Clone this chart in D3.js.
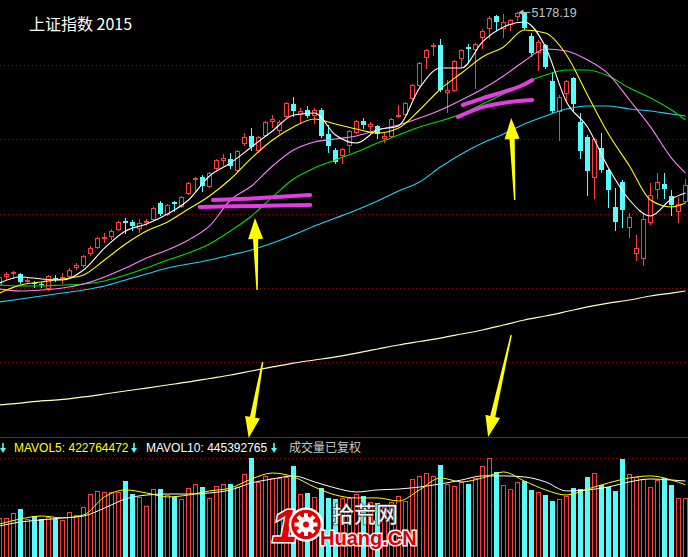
<!DOCTYPE html>
<html><head><meta charset="utf-8">
<script src="https://cdn.jsdelivr.net/npm/d3@7"></script>
<style>
html,body{margin:0;padding:0;background:#000;overflow:hidden}
svg{display:block}
</style></head><body>
<svg id="c" width="688" height="557"></svg>
<script>
// ---------------- DATA ----------------
const chartTitle = "上证指数 2015";
const openP = [3212,3277,3298,3291,3241,3226,3219,3190,3262,3262,
3277,3342,3356,3442,3486,3550,3565,3615,3673,3666,
3622,3666,3687,3802,3723,3810,3781,3874,3975,3990,
3925,4054,4112,4119,4040,4234,4285,4184,4292,4393,
4328,4429,4515,4443,4472,4436,4472,4299,4184,4148,
4220,4314,4393,4357,4357,4270,4285,4429,4443,4558,
4652,4854,4933,4940,4602,4616,4846,4926,4911,4998,
5062,5149,5062,5091,5149,5170,5005,4890,4940,4681,
4465,4594,4702,4386,4278,3990,4198,4040,3774,3954,
3630,3442,3406,3666,3903,3939,3853,3745,3817];
const highP = [3284,3306,3313,3298,3262,3241,3234,3284,3284,3298,
3334,3370,3428,3493,3558,3586,3615,3673,3694,3680,
3687,3687,3774,3817,3795,3817,3853,3954,3986,4004,
4026,4119,4155,4162,4184,4306,4342,4285,4393,4436,
4400,4530,4566,4486,4501,4486,4486,4364,4198,4198,
4328,4400,4414,4386,4364,4314,4414,4508,4530,4659,
4818,4911,4954,4983,4688,4832,4911,4947,4954,5055,
5149,5156,5163,5127,5178.19,5174,5026,4976,4947,4746,
4580,4688,4710,4450,4292,4270,4306,4047,3910,3968,
3730,3572,3730,3946,4018,4018,3896,3846,3975];
const lowP = [3198,3255,3270,3226,3226,3198,3198,3176,3241,3226,
3262,3327,3342,3428,3478,3522,3543,3608,3586,3608,
3594,3644,3680,3716,3716,3745,3774,3867,3882,3889,
3918,4040,4076,4054,4026,4220,4184,4170,4285,4350,
4306,4422,4429,4386,4422,4378,4278,4170,4090,4090,
4170,4306,4342,4299,4270,4242,4278,4422,4436,4551,
4645,4774,4868,4609,4458,4609,4782,4818,4630,4918,
4990,5048,4998,5048,5120,5055,4861,4760,4774,4458,
4256,4530,4472,4126,3860,3838,4026,3774,3608,3630,
3558,3392,3356,3651,3838,3838,3716,3666,3810];
const closeP = [3270,3291,3306,3234,3248,3219,3212,3277,3255,3270,
3320,3356,3421,3478,3550,3558,3601,3666,3658,3637,
3658,3673,3766,3723,3788,3795,3846,3946,3982,3925,
4018,4112,4126,4069,4177,4278,4206,4278,4386,4407,
4386,4522,4465,4465,4429,4472,4285,4213,4098,4191,
4321,4393,4364,4371,4299,4285,4407,4436,4522,4652,
4810,4904,4940,4616,4616,4825,4904,4911,4947,5041,
5134,5106,5106,5120,5170,5062,4882,4962,4782,4465,
4566,4681,4515,4177,4033,4263,4040,3896,3666,3752,
3702,3478,3687,3860,3954,3903,3788,3795,3932];
// volume, millions
const volume = [229,229,258,281,223,240,223,234,223,217,
264,246,293,369,387,381,381,381,445,369,
352,299,398,398,363,352,340,404,428,410,
346,416,428,428,410,486,580,440,475,463,
463,469,533,369,375,352,404,346,340,346,
346,369,357,322,316,293,322,357,328,457,
475,492,475,539,428,416,440,428,463,533,
580,498,422,398,440,445,393,381,363,328,
340,357,404,398,469,492,422,410,387,574,
486,469,457,410,451,463,422,346,346];

// moving-average lines at these days
const maDays = [0,3,6,9,12,15,18,21,24,27,30,33,36,39,42,45,48,51,54,57,60,63,66,69,72,75,78,81,84,87,90,93,96,98];
const ma5 = [3226,3270,3255,3248,3320,3478,3601,3651,3723,3824,3997,4090,4206,4321,4436,4450,4292,4234,4328,4357,4630,4774,4774,4962,5070,5106,4926,4530,4350,4054,3824,3709,3831,3874];
const ma10 = [3154,3212,3234,3255,3284,3392,3507,3601,3666,3759,3853,3975,4126,4256,4350,4407,4371,4335,4306,4342,4472,4623,4738,4854,4926,5048,5026,4868,4580,4299,4069,3824,3774,3802];
const ma20 = [3183,3169,3176,3190,3219,3270,3334,3406,3464,3536,3637,3824,3925,4069,4184,4242,4263,4285,4328,4364,4414,4472,4544,4623,4717,4825,4911,4897,4832,4731,4544,4350,4126,4018];
const ma30 = [3212,3205,3205,3212,3219,3241,3284,3334,3392,3442,3507,3601,3709,3846,3975,4054,4112,4170,4234,4292,4350,4393,4443,4515,4587,4666,4724,4760,4760,4717,4630,4558,4472,4400];
const ma60 = [3090,3111,3133,3154,3176,3205,3248,3291,3334,3363,3392,3428,3464,3514,3572,3637,3694,3752,3817,3889,3954,4061,4155,4234,4299,4371,4429,4479,4501,4501,4479,4465,4443,4429];
const ma250 = [2348,2362,2377,2388,2406,2427,2449,2470,2492,2514,2539,2564,2593,2622,2650,2672,2694,2722,2751,2780,2805,2830,2859,2888,2924,2960,2989,3021,3054,3082,3104,3133,3154,3169];
const volMa5 = [193,223,240,229,246,352,393,375,352,363,387,404,457,492,469,410,363,346,346,328,393,463,440,463,498,445,393,363,398,434,463,475,451,423];
const volMa10 = [182,205,217,229,240,287,340,363,369,369,375,393,434,457,475,440,404,381,393,398,410,428,451,475,475,469,440,387,393,410,440,457,451,445];

const mavol5Last = 422764472;
const mavol10Last = 445392765;
const volNote = "成交量已复权";

const priceGrid = [4796,4263,3723,3190,2658];
const volGrid = [580,305];

// hand-drawn annotations, in [day, price] units
const markA1 = [[30.5,3824],[37.2,3838],[44.4,3860]];
const markA2 = [[28.6,3774],[36.5,3781],[44.4,3788]];
const markB1 = [[66.2,4508],[69.1,4558],[72.9,4616],[74.8,4652],[76.1,4688]];
const markB2 = [[65.5,4422],[69.1,4494],[72.9,4530],[76.1,4544]];
const arrows = [
  [[36.8,3176],[36.5,3694]],
  [[73.6,3824],[73.1,4414]],
  [[37.6,2658],[35.6,2111]],
  [[73.1,2852],[69.8,2118]]
];

// ---------------- DRAW ----------------
const W=688,H=557;
const RED='#ff3c3c', CYAN='#54fcfc';
const svg=d3.select('#c');
svg.append('rect').attr('width',W).attr('height',H).attr('fill','#000');
const n=closeP.length;
const x=d3.scaleLinear().domain([0,98]).range([-0.5,685.5]);
const y=d3.scaleLinear().domain([2312,5192]).range([410,10]);
const vY=d3.scaleLinear().domain([0,700]).range([557,437.5]);
const snap=v=>Math.round(v);
const idx=d3.range(n);
const up=i=>closeP[i]>=openP[i];

// grid
svg.append('g').selectAll('line').data(priceGrid).join('line')
  .attr('x1',0).attr('x2',W)
  .attr('y1',d=>snap(y(d))+0.5).attr('y2',d=>snap(y(d))+0.5)
  .attr('stroke','#8c0a0a').attr('stroke-dasharray','1,3');
svg.append('g').selectAll('line').data(volGrid).join('line')
  .attr('x1',0).attr('x2',W)
  .attr('y1',d=>snap(vY(d))+0.5).attr('y2',d=>snap(vY(d))+0.5)
  .attr('stroke','#8c0a0a').attr('stroke-dasharray','1,3');
svg.append('line').attr('x1',0).attr('x2',W).attr('y1',vY(700)).attr('y2',vY(700))
  .attr('stroke','#a01010');

// MA250 (behind)
const lineGen=sc=>d3.line().x((d,k)=>x(maDays[k])).y(d=>sc(d)).curve(d3.curveMonotoneX);
svg.append('path').attr('d',lineGen(y)(ma250)).attr('fill','none')
  .attr('stroke','#ffffc4').attr('stroke-width',1.2);

// volume bars
const vg=svg.append('g');
vg.selectAll('rect').data(idx).join('rect')
  .attr('x',i=>up(i)?x(i)-2:x(i)-2.5)
  .attr('y',i=>up(i)?snap(vY(volume[i]))+0.5:snap(vY(volume[i])))
  .attr('width',i=>up(i)?4:5)
  .attr('height',i=>H+4-snap(vY(volume[i])))
  .attr('fill',i=>up(i)?'#000':CYAN)
  .attr('stroke',i=>up(i)?RED:'none')
  .attr('shape-rendering','crispEdges');
// volume MA
svg.append('path').attr('d',lineGen(vY)(volMa10)).attr('fill','none').attr('stroke','#ffffff').attr('stroke-width',1);
svg.append('path').attr('d',lineGen(vY)(volMa5)).attr('fill','none').attr('stroke','#ffff00').attr('stroke-width',1);

// candles
const cg=svg.append('g');
cg.selectAll('line').data(idx).join('line')
  .attr('x1',i=>x(i)).attr('x2',i=>x(i))
  .attr('y1',i=>snap(y(highP[i]))).attr('y2',i=>snap(y(lowP[i]))+1)
  .attr('stroke',i=>up(i)?RED:CYAN)
  .attr('shape-rendering','crispEdges');
cg.selectAll('rect').data(idx).join('rect')
  .attr('x',i=>up(i)?x(i)-2:x(i)-2.5)
  .attr('y',i=>{const t=snap(y(Math.max(openP[i],closeP[i])));return up(i)?t+0.5:t;})
  .attr('width',i=>up(i)?4:5)
  .attr('height',i=>{const t=snap(y(Math.max(openP[i],closeP[i])));const b=snap(y(Math.min(openP[i],closeP[i])));return Math.max(b-t,1);})
  .attr('fill',i=>up(i)?'#000':CYAN)
  .attr('stroke',i=>up(i)?RED:'none')
  .attr('shape-rendering','crispEdges');

// price MA lines
[[ma60,'#1ed2f5'],[ma30,'#00dc00'],[ma20,'#ff80ff'],[ma10,'#ffff00'],[ma5,'#ffffff']].forEach(([arr,col])=>{
  svg.append('path').attr('d',lineGen(y)(arr)).attr('fill','none').attr('stroke',col).attr('stroke-width',1.1);
});

// peak label
const iMax=d3.maxIndex(highP);
const px=x(iMax), py=y(highP[iMax]);
svg.append('line').attr('x1',px+2).attr('x2',px+13).attr('y1',py+0.5).attr('y2',py+0.5).attr('stroke','#c0c0c0');
svg.append('path').attr('d',`M${px+1},${py+0.5}L${px+6},${py-2.5}L${px+6},${py+3.5}Z`).attr('fill','#c0c0c0');
svg.append('text').attr('x',px+14).attr('y',py+5).attr('fill','#bfc3c8')
  .attr('font-family','"Liberation Sans",Arial,sans-serif').attr('font-size',12.5)
  .text(d3.format('.2f')(highP[iMax]));

// title
svg.append('text').attr('x',29).attr('y',30).attr('fill','#fff')
  .attr('font-family','"Noto Sans CJK SC","Liberation Sans",sans-serif').attr('font-size',16)
  .text(chartTitle);

// magenta hand marks
const mk=d3.line().x(d=>x(d[0])).y(d=>y(d[1])).curve(d3.curveCatmullRom);
[markA1,markA2,markB1,markB2].forEach(m=>{
  svg.append('path').attr('d',mk(m)).attr('fill','none').attr('stroke','#e33ce3')
    .attr('stroke-width',4).attr('stroke-linecap','round');
});

// yellow arrows
arrows.forEach(([t,p])=>{
  const T=[x(t[0]),y(t[1])], P=[x(p[0]),y(p[1])];
  const dx=P[0]-T[0], dy=P[1]-T[1], L=Math.hypot(dx,dy);
  const u=[dx/L,dy/L], nn=[-u[1],u[0]];
  const hl=21, hw=7.5;
  const B=[P[0]-u[0]*hl,P[1]-u[1]*hl];
  const pt=(o,s)=>[o[0]+nn[0]*s,o[1]+nn[1]*s];
  const pts=[pt(T,0.7),pt(B,2.6),pt(B,hw),P,pt(B,-hw),pt(B,-2.6),pt(T,-0.7)];
  svg.append('path').attr('d','M'+pts.map(q=>q.join(',')).join('L')+'Z').attr('fill','#ffff00');
});

// volume header
const hdrY=452;
const dArrow=cx=>{
  svg.append('rect').attr('x',cx-0.8).attr('y',443).attr('width',1.6).attr('height',6).attr('fill',CYAN);
  svg.append('path').attr('d',`M${cx-3},448L${cx+3},448L${cx},453Z`).attr('fill',CYAN);
};
dArrow(3);
svg.append('text').attr('x',14).attr('y',hdrY).attr('fill','#ffff00')
  .attr('font-family','"Liberation Sans",Arial,sans-serif').attr('font-size',12)
  .text('MAVOL5: '+mavol5Last);
dArrow(134);
svg.append('text').attr('x',146).attr('y',hdrY).attr('fill','#ffffff')
  .attr('font-family','"Liberation Sans",Arial,sans-serif').attr('font-size',12)
  .text('MAVOL10: '+mavol10Last);
dArrow(274);
svg.append('text').attr('x',289).attr('y',hdrY).attr('fill','#c8c8c8')
  .attr('font-family','"Noto Sans CJK SC",sans-serif').attr('font-size',12)
  .text(volNote);

// watermark logo
const wm=svg.append('g');
wm.append('text').attr('x',272).attr('y',542).attr('fill','#e00000').attr('stroke','#fff').attr('stroke-width',3)
  .attr('paint-order','stroke').attr('font-family','"Liberation Sans",Arial,sans-serif').attr('font-weight','bold')
  .attr('font-style','italic').attr('font-size',46).text('1');
wm.append('circle').attr('cx',306).attr('cy',524.5).attr('r',16).attr('fill','#e00000').attr('stroke','#fff').attr('stroke-width',2.5);
for(let k=0;k<8;k++){
  const a=k*Math.PI/4;
  wm.append('rect').attr('x',-2).attr('y',-11.5).attr('width',4).attr('height',5).attr('fill','#fff')
    .attr('transform',`translate(306,524.5) rotate(${a*180/Math.PI})`);
}
wm.append('circle').attr('cx',306).attr('cy',524.5).attr('r',8).attr('fill','#fff');
wm.append('circle').attr('cx',306).attr('cy',524.5).attr('r',3).attr('fill','#e00000');
wm.append('text').attr('x',332).attr('y',522).attr('fill','#fff').attr('stroke','#444').attr('stroke-width',1.5)
  .attr('paint-order','stroke').attr('font-family','"Noto Sans CJK SC",sans-serif').attr('font-size',22)
  .text('拾荒网');
wm.append('text').attr('x',320).attr('y',545).attr('fill','#e00000').attr('stroke','#fff').attr('stroke-width',3)
  .attr('paint-order','stroke').attr('font-family','"Liberation Sans Narrow","Liberation Sans",sans-serif').attr('font-weight','bold')
  .attr('font-size',20).text('Huang.CN');
</script>
</body></html>
